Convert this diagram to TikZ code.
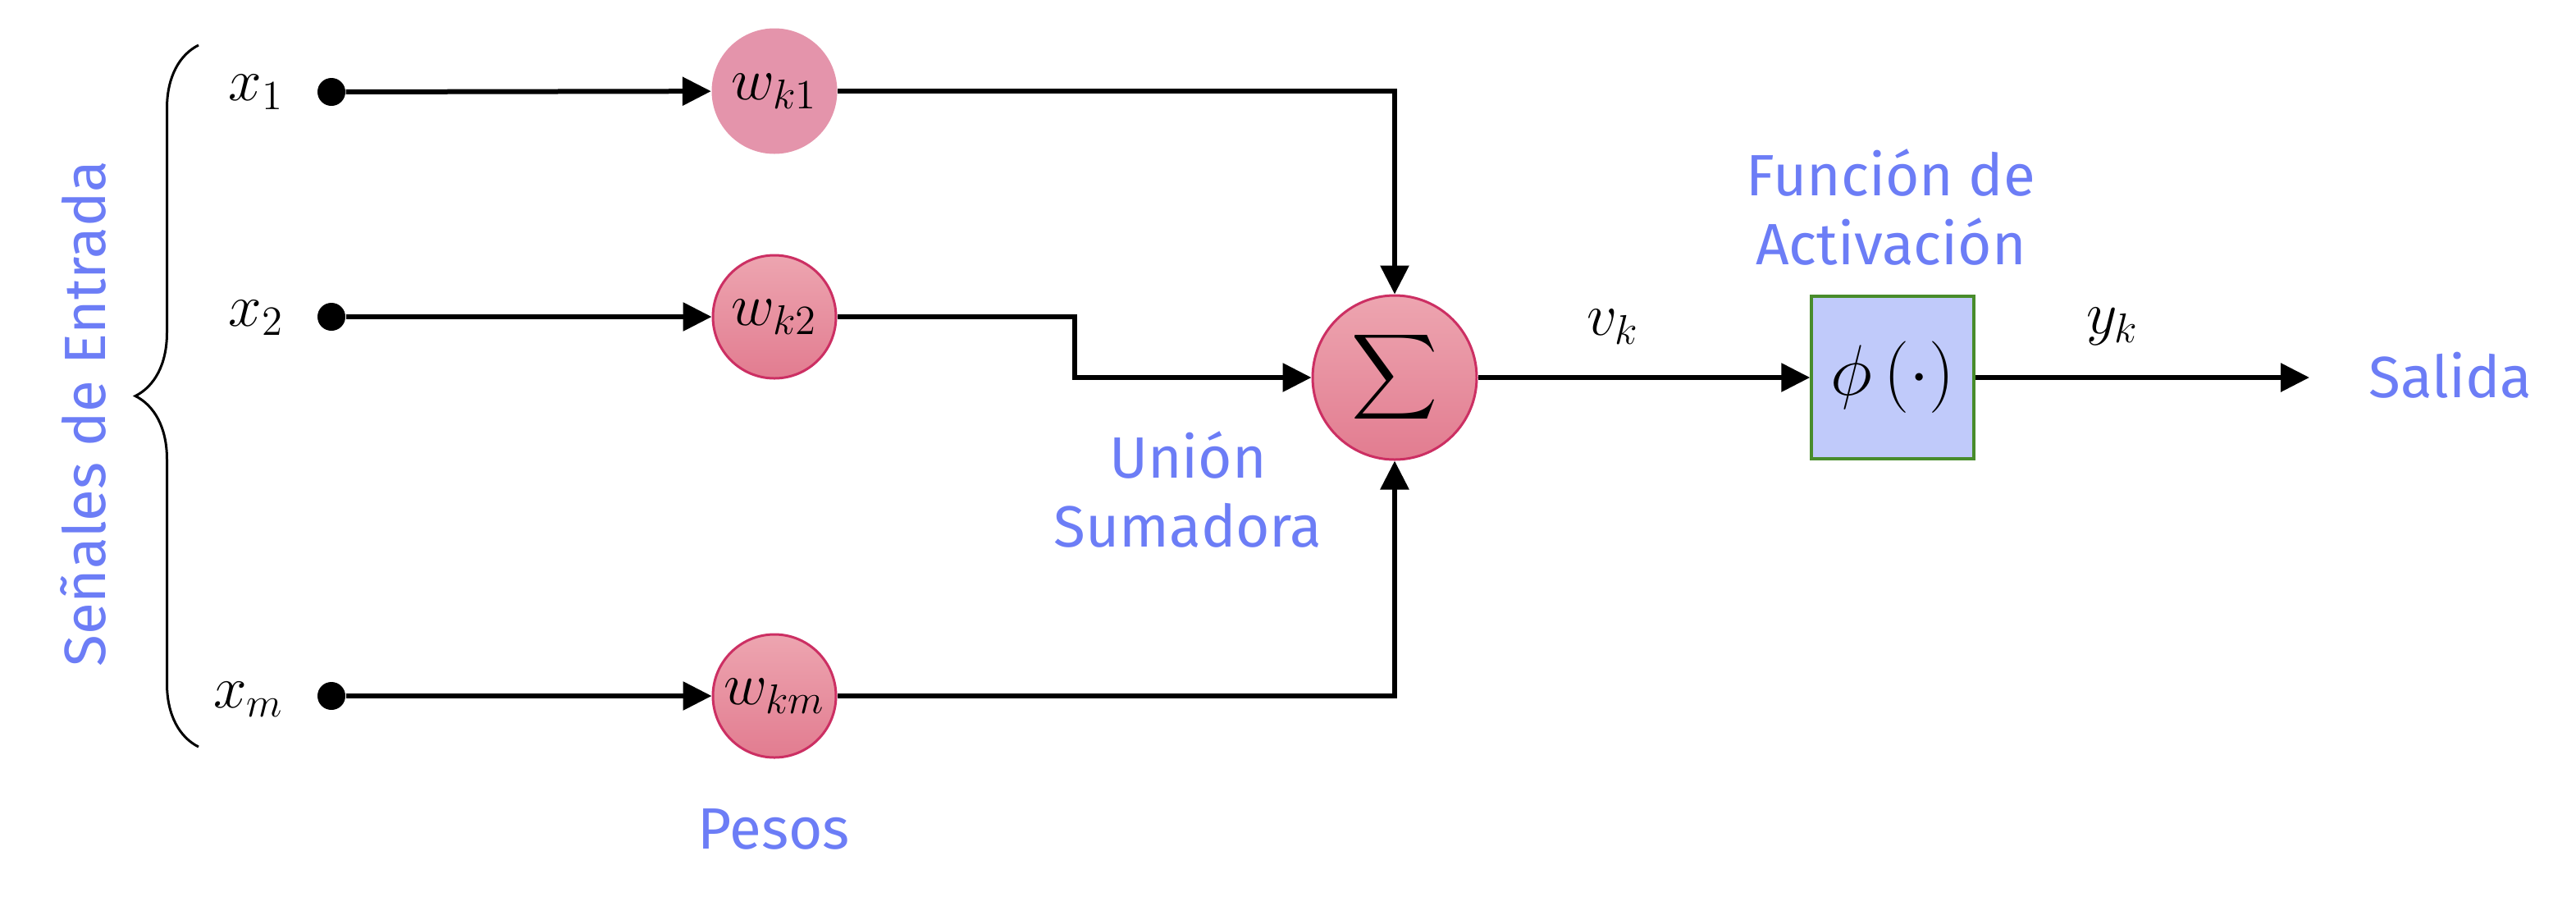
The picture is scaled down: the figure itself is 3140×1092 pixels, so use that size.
\documentclass[tikz,border=0pt]{standalone}
\usepackage{amsmath}
\usepackage{fontspec}
\newfontfamily\lblfont{Fira Sans}
\usetikzlibrary{arrows.meta,decorations.pathreplacing}
\definecolor{lblblue}{RGB}{108,125,246}
\definecolor{pinktop}{RGB}{237,165,176}
\definecolor{pinkbot}{RGB}{226,124,144}
\definecolor{pinkline}{RGB}{204,47,99}
\definecolor{pinkflat}{RGB}{228,148,171}
\definecolor{boxfill}{RGB}{192,202,250}
\definecolor{boxline}{RGB}{72,140,43}
\tikzset{
  conn/.style={line width=0.6mm, -{Triangle[length=3.5mm,width=3.4mm]}},
  mathtxt/.style={font=\huge, inner sep=0pt},
  wnode/.style={circle, minimum size=15mm, inner sep=0pt, draw=pinkline, line width=0.3mm,
    top color=pinktop, bottom color=pinkbot, font=\huge},
  wflat/.style={circle, minimum size=15.3mm, inner sep=0pt, fill=pinkflat, font=\huge},
  dotnode/.style={circle, fill=black, minimum size=3.4mm, inner sep=0pt},
  lbl/.style={font=\lblfont\fontsize{20.2}{23.9}\selectfont, text=lblblue, inner sep=0pt, align=center},
  bracestyle/.style={line width=0.3mm, decorate, decoration={brace, amplitude=7.7mm}}
}
\begin{document}
\begin{tikzpicture}[x=0.1mm,y=-0.1mm]
\useasboundingbox (0,0) rectangle (3140,1092);
% brace and side label
\coordinate (btop) at (242,55);
\coordinate (bbot) at (242,910);
\draw[bracestyle] (bbot) -- (btop);
\node[lbl, rotate=90] (senales) at (101,504) {Señales de Entrada};
% inputs
\node[mathtxt] (x1) at (312,112) {$x_1$};
\node[mathtxt] (x2) at (312,387) {$x_2$};
\node[mathtxt] (xm) at (303,852) {$x_m$};
\node[dotnode] (d1) at (404,112) {};
\node[dotnode] (d2) at (404,386) {};
\node[dotnode] (dm) at (404,848) {};
% weights
\node[wflat] (wk1) at (944,111) {$w_{k1}$};
\node[wnode] (wk2) at (944,386) {$w_{k2}$};
\node[wnode] (wkm) at (944,848) {$w_{km}$};
% summing junction
\node[wnode, minimum size=20mm, font=\huge] (sigma) at (1700,460) {$\displaystyle\sum$};
% activation
\node[rectangle, draw=boxline, line width=0.35mm, fill=boxfill, minimum size=19.8mm, inner sep=0pt,
  font=\Huge] (phi) at (2307,460) {$\phi\left(\cdot\right)$};
\coordinate (bend2) at (1310,386);
\coordinate (out) at (2815,460);
% connectors
\draw[conn] (d1) -- (wk1);
\draw[conn] (d2) -- (wk2);
\draw[conn] (dm) -- (wkm);
\draw[conn] (wk1.east) -| (sigma.north);
\draw[conn] (wk2.east) -- (bend2) |- (sigma.west);
\draw[conn] (wkm.east) -| (sigma.south);
\draw[conn] (sigma.east) -- (phi.west);
\draw[conn] (phi.east) -- (out);
% signal labels
\node[mathtxt] (vk) at (1966,398) {$v_k$};
\node[mathtxt] (yk) at (2575,398) {$y_k$};
% blue labels
\node[lbl] (funcion) at (2305,252) {Función de\\Activación};
\node[lbl] (union) at (1448,596) {Unión\\Sumadora};
\node[lbl] (pesos) at (943,1010) {Pesos};
\node[lbl] (salida) at (2987,457) {Salida};
\end{tikzpicture}
\end{document}
